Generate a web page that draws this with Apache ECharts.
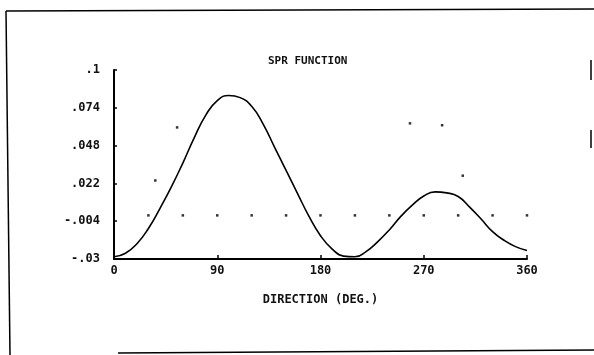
<!DOCTYPE html>
<html>
<head>
<meta charset="utf-8">
<script src="https://cdn.jsdelivr.net/npm/echarts@6/dist/echarts.min.js"></script>
<style>
html,body{margin:0;padding:0;background:#fff;}
#c{width:594px;height:355px;}
</style>
</head>
<body>
<div id="c"></div>
<script>
// Direction (deg) and SPR function values
var directions = [0,10,20,30,40,50,60,70,80,90,100,110,120,130,140,150,160,170,180,
                  190,200,210,220,230,240,250,260,270,280,290,300,310,320,330,340,350,360];
var sprValues = [-0.0285,-0.026,-0.0195,-0.009,0.0047,0.0196,0.036,0.0535,0.069,0.079,0.0825,0.081,
                 0.075,0.0628,0.0468,0.031,0.015,-0.0007,-0.014,-0.023,-0.028,-0.0285,-0.0247,-0.018,
                 -0.010,-0.0007,0.007,0.0133,0.0162,0.0155,0.013,0.0057,-0.0025,-0.0112,-0.0171,-0.0215,-0.0242];
// dotted zero reference marks
var zeroDotsX = [30,60,90,120,150,180,210,240,270,300,330,360];
var zeroDotsY = [0,0,0,0,0,0,0,0,0,0,0,0];
// stray dots
var strayX = [36,55,258,286,304];
var strayY = [0.024,0.0605,0.0633,0.062,0.0273];
// axis ticks
var yTicks = [-0.03,-0.004,0.022,0.048,0.074,0.1];
var xTicks = [0,90,180,270,360];

function fmtY(v){
  var s = String(Math.abs(v)).replace(/^0/, '');
  return (v < 0 ? '-' : '') + s;
}

var lineData = directions.map(function(d,i){return [d, sprValues[i]];});
var zeroData = zeroDotsX.map(function(d,i){return [d, zeroDotsY[i]];});
var strayData = strayX.map(function(d,i){return [d, strayY[i]];});

var font = '"DejaVu Sans Mono", monospace';
var chart = echarts.init(document.getElementById('c'));
chart.setOption({
  backgroundColor: '#fff',
  animation: false,
  title: {
    text: 'SPR FUNCTION',
    left: 263, top: 51,
    textStyle: {fontFamily: font, fontSize: 11, fontWeight: 'bold', color: '#111'}
  },
  grid: {left: 114, right: 67, top: 70, bottom: 96},
  xAxis: {
    type: 'value', min: 0, max: 360, interval: 90,
    name: 'DIRECTION (DEG.)', nameLocation: 'middle', nameGap: 35,
    nameTextStyle: {fontFamily: font, fontSize: 12, fontWeight: 'bold', color: '#111'},
    axisLine: {show: true, onZero: false, lineStyle: {color: '#000', width: 2}},
    axisTick: {show: true, inside: true, length: 4, lineStyle: {color: '#000', width: 1.5}},
    axisLabel: {fontFamily: font, fontSize: 12, fontWeight: 'bold', color: '#111', margin: 6,
                customValues: xTicks, formatter: function(v){return String(v);}},
    splitLine: {show: false}
  },
  yAxis: {
    type: 'value', min: -0.03, max: 0.1,
    axisLine: {show: true, onZero: false, lineStyle: {color: '#000', width: 2}},
    axisTick: {show: true, inside: true, length: 3, customValues: yTicks, lineStyle: {color: '#000', width: 1.5}},
    axisLabel: {fontFamily: font, fontSize: 12, fontWeight: 'bold', color: '#111', margin: 14,
                customValues: yTicks, formatter: fmtY},
    splitLine: {show: false}
  },
  series: [
    {type: 'line', data: lineData, smooth: 0.5, symbol: 'none',
     lineStyle: {color: '#000', width: 1.6}, z: 3},
    {type: 'scatter', data: zeroData, symbol: 'rect', symbolSize: 2.5,
     itemStyle: {color: '#000'}},
    {type: 'scatter', data: strayData, symbol: 'rect', symbolSize: 2.5,
     itemStyle: {color: '#000'}}
  ],
  graphic: [
    {type: 'line', shape: {x1: 6, y1: 11, x2: 594, y2: 9}, style: {stroke: '#000', lineWidth: 1.5}},
    {type: 'line', shape: {x1: 6, y1: 11, x2: 10, y2: 355}, style: {stroke: '#000', lineWidth: 1.5}},
    {type: 'line', shape: {x1: 118, y1: 353, x2: 594, y2: 350}, style: {stroke: '#000', lineWidth: 1.5}},
    {type: 'line', shape: {x1: 591, y1: 60, x2: 591, y2: 80}, style: {stroke: '#000', lineWidth: 1.5}},
    {type: 'line', shape: {x1: 591, y1: 130, x2: 591, y2: 148}, style: {stroke: '#000', lineWidth: 1.5}}
  ]
});
</script>
</body>
</html>
